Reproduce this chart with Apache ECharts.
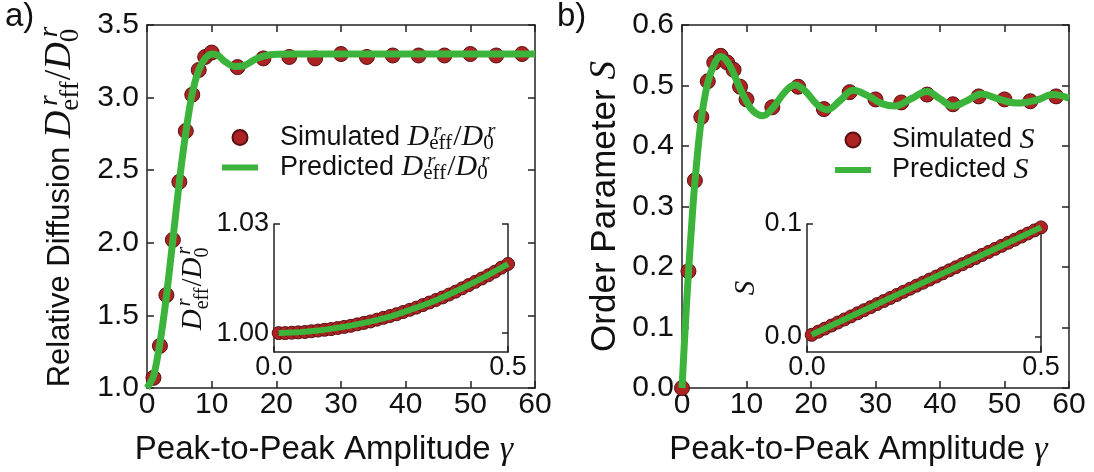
<!DOCTYPE html>
<html><head><meta charset="utf-8">
<script src="https://cdn.jsdelivr.net/npm/echarts@6/dist/echarts.min.js"></script>
<style>html,body{margin:0;padding:0;background:#fff}#c{width:1094px;height:472px}</style>
</head><body><div id="c"></div>
<script>
// ---------- data ----------
const gammaSim = [1,2,3,4,5,6,7,8,9,10,14,18,22,26,30,34,38,42,46,50,54,58];
const diffSim = [1.07,1.29,1.64,2.02,2.42,2.77,3.02,3.19,3.28,3.31,3.21,3.27,3.28,3.27,3.30,3.28,3.29,3.29,3.29,3.30,3.29,3.30];
const gammaDiffPred = [0,1,2,3,4,5,6,7,8,9,10,11,12,13.5,15,17,19,22,30,40,50,60];
const diffPred = [1.0,1.08,1.31,1.63,2.02,2.42,2.76,3.03,3.19,3.27,3.30,3.29,3.25,3.215,3.22,3.27,3.295,3.30,3.30,3.30,3.30,3.30];

const gammaSSim = [0,1,2,3,4,5,6,7,8,9,10,14,18,22,26,30,34,38,42,46,50,54,58];
const orderSim = [0.0,0.193,0.343,0.448,0.507,0.538,0.549,0.538,0.526,0.498,0.477,0.464,0.498,0.461,0.489,0.477,0.472,0.485,0.469,0.482,0.477,0.474,0.482];
const gammaSPred = [0,0.5,1,1.5,2,3,4,5,6,7,8,9,10,11,12.5,14,16,17.5,19,21,22.5,24.5,26.5,29,31,33,35.5,38,40,42,44,46.5,49,52,55,57.5,60];
const orderPred = [0.0,0.10,0.19,0.27,0.34,0.445,0.505,0.535,0.548,0.54,0.52,0.495,0.474,0.458,0.450,0.462,0.49,0.501,0.492,0.468,0.460,0.475,0.492,0.482,0.470,0.466,0.478,0.490,0.478,0.466,0.474,0.486,0.478,0.471,0.476,0.485,0.479];

const insetGamma = [0.010,0.024,0.038,0.052,0.066,0.080,0.094,0.108,0.122,0.136,0.150,0.164,0.178,0.192,0.206,0.220,0.234,0.248,0.262,0.276,0.290,0.304,0.318,0.332,0.346,0.360,0.374,0.388,0.402,0.416,0.430,0.444,0.458,0.472,0.486,0.500];
const insetDiffSim = [1.0000,1.0000,1.0001,1.0002,1.0003,1.0005,1.0007,1.0009,1.0011,1.0014,1.0017,1.0020,1.0024,1.0028,1.0032,1.0037,1.0042,1.0047,1.0052,1.0058,1.0064,1.0070,1.0077,1.0084,1.0091,1.0098,1.0106,1.0114,1.0123,1.0132,1.0141,1.0150,1.0159,1.0169,1.0180,1.0190];
const insetOrderSim = [0.0019,0.0047,0.0074,0.0101,0.0128,0.0155,0.0182,0.0210,0.0237,0.0264,0.0291,0.0318,0.0345,0.0372,0.0400,0.0427,0.0454,0.0481,0.0508,0.0535,0.0563,0.0590,0.0617,0.0644,0.0671,0.0698,0.0726,0.0753,0.0780,0.0807,0.0834,0.0861,0.0889,0.0916,0.0943,0.0970];
const insetPredGamma = [0.01,0.1,0.2,0.3,0.4,0.5];
const insetDiffPred = [1.0000,1.0008,1.0030,1.0068,1.0122,1.0190];
const insetOrderPred = [0.0019,0.0194,0.0388,0.0582,0.0776,0.0970];

const insetXTicks = [0, 0.5];
const insetDiffTicks = [1.00, 1.03];
const insetOrderTicks = [0.0, 0.1];

// ---------- styling ----------
const SANS = "'Liberation Sans', Arial, Helvetica, sans-serif";
const SERIF = "'Liberation Serif', 'Times New Roman', serif";
const INK = '#111';
const GREEN = '#3cb43c';
const RED = '#ad2222';
const EDGE = '#5a1010';
const FRAME = {show: true, onZero: false, lineStyle: {color: '#222', width: 1.5}};

const measureCtx = document.createElement('canvas').getContext('2d');
function textW(txt, size, italic) {
  measureCtx.font = (italic ? 'italic ' : '') + size + 'px ' + SERIF;
  return measureCtx.measureText(txt).width;
}

// math rich styles: base sans size, D size d, line height L
function mathRich(base, d, L, padLeft) {
  const s = Math.round(d * 0.7);
  const k = Math.round(d * 0.12);          // italic offset of superscript
  const wEff = textW('eff', s, false), w0 = textW('0', s, false), wr = textW('r', s, true);
  const supH = L - 0.668 * d, subH = L - 0.592 * d;
  const A = 'left';
  return {
    t: {align: A, fontFamily: SANS, fontSize: base, lineHeight: L, color: INK},
    tp: {align: A, fontFamily: SANS, fontSize: base, lineHeight: L, color: INK, padding: [0, 0, 0, padLeft || 0]},
    D: {align: A, fontFamily: SERIF, fontStyle: 'italic', fontSize: d, lineHeight: L, color: INK},
    S: {align: A, fontFamily: SERIF, fontStyle: 'italic', fontSize: d, lineHeight: L, color: INK},
    g: {align: A, fontFamily: SERIF, fontStyle: 'italic', fontSize: d, lineHeight: L, color: INK},
    sl: {align: A, fontFamily: SERIF, fontSize: d, lineHeight: L, color: INK},
    subE: {align: A, fontFamily: SERIF, fontSize: s, lineHeight: subH, verticalAlign: 'bottom', width: 0, color: INK},
    sub0: {align: A, fontFamily: SERIF, fontSize: s, lineHeight: subH, verticalAlign: 'bottom', width: 0, color: INK},
    supE: {align: A, fontFamily: SERIF, fontStyle: 'italic', fontSize: s, lineHeight: supH, verticalAlign: 'top',
           padding: [0, 0, 0, k], width: Math.max(wEff, wr + k) - k + 1, color: INK},
    sup0: {align: A, fontFamily: SERIF, fontStyle: 'italic', fontSize: s, lineHeight: supH, verticalAlign: 'top',
           padding: [0, 0, 0, k], width: Math.max(w0, wr + k) - k + 1, color: INK}
  };
}
const dRatio = '{D|D}{subE|eff}{supE|r}{sl|/}{D|D}{sub0|0}{sup0|r}';

function zip(a, b) { return a.map((v, i) => [v, b[i]]); }

const TICK = {inside: true, length: 7, lineStyle: {color: '#222', width: 1.5}};

function xAxisMain(gridIndex) {
  return {
    type: 'value', gridIndex, position: 'bottom', min: 0, max: 60, interval: 10,
    axisLine: FRAME, splitLine: {show: false}, axisTick: TICK,
    axisLabel: {fontFamily: SANS, fontSize: 30, color: INK, margin: 2},
    name: '{t|Peak-to-Peak Amplitude }{g|γ}',
    nameLocation: 'middle', nameGap: 44,
    nameTextStyle: {rich: mathRich(33, 34, 36), padding: [0, 34, 0, 0]}
  };
}
function xAxisTop(gridIndex) {
  return {
    type: 'value', gridIndex, position: 'top', min: 0, max: 60, interval: 10,
    axisLine: FRAME, splitLine: {show: false}, axisTick: TICK, axisLabel: {show: false}
  };
}
function yAxisMain(gridIndex, min, max, interval, name, gap, base, d) {
  return {
    type: 'value', gridIndex, position: 'left', min, max, interval,
    axisLine: FRAME, splitLine: {show: false}, axisTick: TICK,
    axisLabel: {fontFamily: SANS, fontSize: 30, color: INK, margin: 8, formatter: v => v.toFixed(1)},
    name, nameLocation: 'middle', nameRotate: 90, nameGap: gap,
    nameTextStyle: {rich: mathRich(base, d, 48)}
  };
}
function yAxisRight(gridIndex, min, max, interval) {
  return {
    type: 'value', gridIndex, position: 'right', min, max, interval,
    axisLine: FRAME, splitLine: {show: false}, axisTick: TICK, axisLabel: {show: false}
  };
}
function xAxisInset(gridIndex) {
  return {
    type: 'value', gridIndex, position: 'bottom', min: 0, max: 0.5,
    axisLine: FRAME, splitLine: {show: false},
    axisTick: {inside: true, length: 6, customValues: insetXTicks, lineStyle: {color: '#222', width: 1.5}},
    axisLabel: {fontFamily: SANS, fontSize: 27, color: INK, margin: 2, customValues: insetXTicks,
      showMinLabel: true, showMaxLabel: true, formatter: v => v.toFixed(1)}
  };
}
function yAxisInset(gridIndex, min, max, ticks, digits, name, gap) {
  return {
    type: 'value', gridIndex, position: 'left', min, max,
    axisLine: FRAME, splitLine: {show: false},
    axisTick: {inside: true, length: 6, customValues: ticks, lineStyle: {color: '#222', width: 1.5}},
    axisLabel: {fontFamily: SANS, fontSize: 27, color: INK, margin: 5, customValues: ticks,
      showMinLabel: true, showMaxLabel: true, formatter: v => v.toFixed(digits)},
    name, nameLocation: 'middle', nameRotate: 90, nameGap: gap,
    nameTextStyle: {rich: mathRich(27, 29, 38)}
  };
}
function yAxisInsetRight(gridIndex, min, max, ticks) {
  return {
    type: 'value', gridIndex, position: 'right', min, max,
    axisLine: FRAME, splitLine: {show: false},
    axisTick: {inside: true, length: 6, customValues: ticks, lineStyle: {color: '#222', width: 1.5}},
    axisLabel: {show: false}
  };
}

const scatterStyle = {color: RED, borderColor: EDGE, borderWidth: 1, opacity: 1};
const legendNames = {
  simA: '{tp|Simulated }' + dRatio,
  predA: '{tp|Predicted }' + dRatio,
  simB: '{tp|Simulated }{S|S}',
  predB: '{tp|Predicted }{S|S}'
};
const lineIcon = 'path://M0,0H36V6H0Z';

const option = {
  animation: false,
  backgroundColor: '#fff',
  grid: [
    {left: 147, top: 25, width: 388, height: 366},
    {left: 274, top: 224, width: 234, height: 128, show: true, backgroundColor: '#fff', borderWidth: 0},
    {left: 682, top: 25, width: 387, height: 366},
    {left: 807, top: 224, width: 234, height: 128, show: true, backgroundColor: '#fff', borderWidth: 0}
  ],
  xAxis: [
    xAxisMain(0), xAxisTop(0), xAxisInset(1),
    xAxisMain(2), xAxisTop(2), xAxisInset(3)
  ],
  yAxis: [
    yAxisMain(0, 1.0, 3.5, 0.5, '{t|Relative Diffusion }' + dRatio, 63, 31, 38),
    yAxisRight(0, 1.0, 3.5, 0.5),
    yAxisInset(1, 0.9948, 1.03, insetDiffTicks, 2, dRatio, 57),
    yAxisInsetRight(1, 0.9948, 1.03, insetDiffTicks),
    yAxisMain(2, 0.0, 0.6, 0.1, '{t|Order Parameter }{S|S}', 53, 35, 37),
    yAxisRight(2, 0.0, 0.6, 0.1),
    yAxisInset(3, -0.0133, 0.1, insetOrderTicks, 1, '{S|S}', 36),
    yAxisInsetRight(3, -0.0133, 0.1, insetOrderTicks)
  ],
  legend: [
    {
      left: 222, top: 121, orient: 'vertical', padding: 0, itemGap: -3,
      itemWidth: 36, itemHeight: 15, selectedMode: false,
      data: [{name: 'simA', icon: 'circle'}, {name: 'predA', icon: lineIcon}],
      formatter: n => legendNames[n],
      textStyle: {rich: mathRich(27, 30, 33, 17)}
    },
    {
      left: 835, top: 125, orient: 'vertical', padding: 0, itemGap: 0,
      itemWidth: 36, itemHeight: 15, selectedMode: false,
      data: [{name: 'simB', icon: 'circle'}, {name: 'predB', icon: lineIcon}],
      formatter: n => legendNames[n],
      textStyle: {rich: mathRich(27, 30, 31, 16)}
    }
  ],
  graphic: [
    {type: 'text', left: 5, top: 0, style: {text: 'a)', font: '33px ' + SANS, fill: INK}},
    {type: 'text', left: 557, top: 0, style: {text: 'b)', font: '33px ' + SANS, fill: INK}}
  ],
  series: [
    {name: 'simA', type: 'scatter', xAxisIndex: 0, yAxisIndex: 0, data: zip(gammaSim, diffSim),
      symbolSize: 15, itemStyle: scatterStyle, z: 2},
    {name: 'predA', type: 'line', xAxisIndex: 0, yAxisIndex: 0, data: zip(gammaDiffPred, diffPred),
      showSymbol: false, smooth: 0.25, color: GREEN, lineStyle: {color: GREEN, width: 7}, z: 3},
    {name: 'insetA_sim', type: 'scatter', xAxisIndex: 2, yAxisIndex: 2, data: zip(insetGamma, insetDiffSim),
      symbolSize: 13, itemStyle: scatterStyle, z: 4},
    {name: 'insetA_pred', type: 'line', xAxisIndex: 2, yAxisIndex: 2, data: zip(insetPredGamma, insetDiffPred),
      showSymbol: false, smooth: true, lineStyle: {color: GREEN, width: 6}, z: 5},
    {name: 'simB', type: 'scatter', xAxisIndex: 3, yAxisIndex: 4, data: zip(gammaSSim, orderSim),
      symbolSize: 15, itemStyle: scatterStyle, z: 2},
    {name: 'predB', type: 'line', xAxisIndex: 3, yAxisIndex: 4, data: zip(gammaSPred, orderPred),
      showSymbol: false, smooth: 0.4, color: GREEN, lineStyle: {color: GREEN, width: 7}, z: 3},
    {name: 'insetB_sim', type: 'scatter', xAxisIndex: 5, yAxisIndex: 6, data: zip(insetGamma, insetOrderSim),
      symbolSize: 13, itemStyle: scatterStyle, z: 4},
    {name: 'insetB_pred', type: 'line', xAxisIndex: 5, yAxisIndex: 6, data: zip(insetPredGamma, insetOrderPred),
      showSymbol: false, lineStyle: {color: GREEN, width: 6}, z: 5}
  ]
};

const chart = echarts.init(document.getElementById('c'), null, {renderer: 'canvas'});
chart.setOption(option);
</script>
</body></html>
